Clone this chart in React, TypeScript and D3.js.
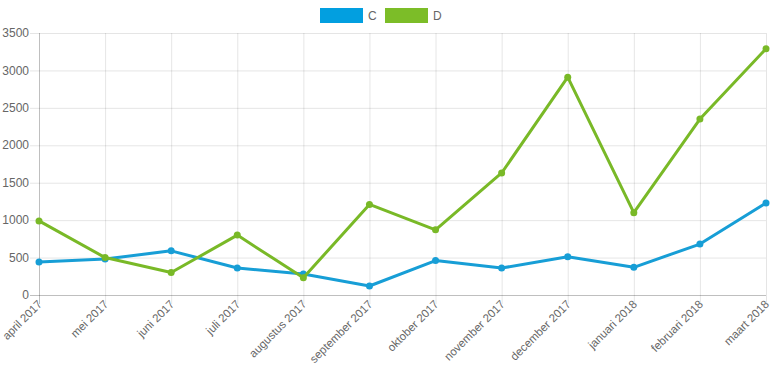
import React, { useEffect, useRef } from 'react';
import * as d3 from 'd3';

const months = [
  'april 2017', 'mei 2017', 'juni 2017', 'juli 2017', 'augustus 2017', 'september 2017',
  'oktober 2017', 'november 2017', 'december 2017', 'januari 2018', 'februari 2018', 'maart 2018',
];
const seriesC = [440, 480, 590, 360, 280, 120, 460, 360, 510, 370, 680, 1230];
const seriesD = [990, 500, 300, 800, 230, 1210, 870, 1630, 2910, 1100, 2350, 3290];
const yTicks = [0, 500, 1000, 1500, 2000, 2500, 3000, 3500];

const series = [
  { name: 'C', values: seriesC, color: '#179ed6', legend: '#029fe0' },
  { name: 'D', values: seriesD, color: '#79b927', legend: '#7cbd28' },
];

const App = () => {
  const svgRef = useRef<SVGSVGElement>(null);

  useEffect(() => {
    const svg = d3.select(svgRef.current);
    svg.selectAll('*').remove();

    const W = 773, H = 386;
    const margin = { top: 33, right: 7, bottom: 91, left: 39 };
    const width = W - margin.left - margin.right;
    const height = H - margin.top - margin.bottom;
    const font = 'Liberation Sans, Arial, sans-serif';

    const x = d3.scalePoint<string>().domain(months).range([0, width]);
    const y = d3.scaleLinear().domain([0, 3500]).range([height, 0]);

    const g = svg.append('g').attr('transform', `translate(${margin.left},${margin.top})`);

    // grid
    g.selectAll('.hgrid').data(yTicks).enter().append('line')
      .attr('x1', -9).attr('x2', width)
      .attr('y1', d => y(d) + 0.5).attr('y2', d => y(d) + 0.5)
      .attr('stroke', d => d === 0 ? 'rgba(0,0,0,0.25)' : 'rgba(0,0,0,0.1)');

    g.selectAll('.vgrid').data(months).enter().append('line')
      .attr('x1', d => x(d)! + 0.5).attr('x2', d => x(d)! + 0.5)
      .attr('y1', 0).attr('y2', height + 9)
      .attr('stroke', (d, i) => i === 0 ? 'rgba(0,0,0,0.25)' : 'rgba(0,0,0,0.1)');

    // y labels
    g.selectAll('.ylab').data(yTicks).enter().append('text')
      .attr('x', -10).attr('y', d => y(d))
      .attr('dy', '0.35em')
      .attr('text-anchor', 'end')
      .attr('font-family', font).attr('font-size', 12).attr('fill', '#666')
      .text(d => d);

    // x labels
    g.selectAll('.xlab').data(months).enter().append('text')
      .attr('transform', d => `translate(${x(d)! + 1},${height + 7}) rotate(-45)`)
      .attr('text-anchor', 'end')
      .attr('dy', '0.35em')
      .attr('font-family', font).attr('font-size', 11.5).attr('fill', '#666')
      .text(d => d);

    // lines
    series.forEach(s => {
      const line = d3.line<number>()
        .x((_, i) => x(months[i])!)
        .y(d => y(d));
      g.append('path')
        .datum(s.values)
        .attr('fill', 'none')
        .attr('stroke', s.color)
        .attr('stroke-width', 3)
        .attr('stroke-linejoin', 'round')
        .attr('d', line);
      g.selectAll(null).data(s.values).enter().append('circle')
        .attr('cx', (_, i) => x(months[i])!)
        .attr('cy', d => y(d))
        .attr('r', 3.5)
        .attr('fill', s.color);
    });

    // legend
    const legend = svg.append('g').attr('transform', 'translate(320,8)');
    series.forEach((s, i) => {
      const lg = legend.append('g').attr('transform', `translate(${i * 65},0)`);
      lg.append('rect').attr('width', 43).attr('height', 15).attr('fill', s.legend);
      lg.append('text').attr('x', 48).attr('y', 8).attr('dy', '0.35em')
        .attr('font-family', font).attr('font-size', 12).attr('fill', '#666')
        .text(s.name);
    });
  }, []);

  return <svg ref={svgRef} width={773} height={386} style={{ display: 'block', position: 'absolute', left: 0, top: 0 }} />;
};

export default App;
